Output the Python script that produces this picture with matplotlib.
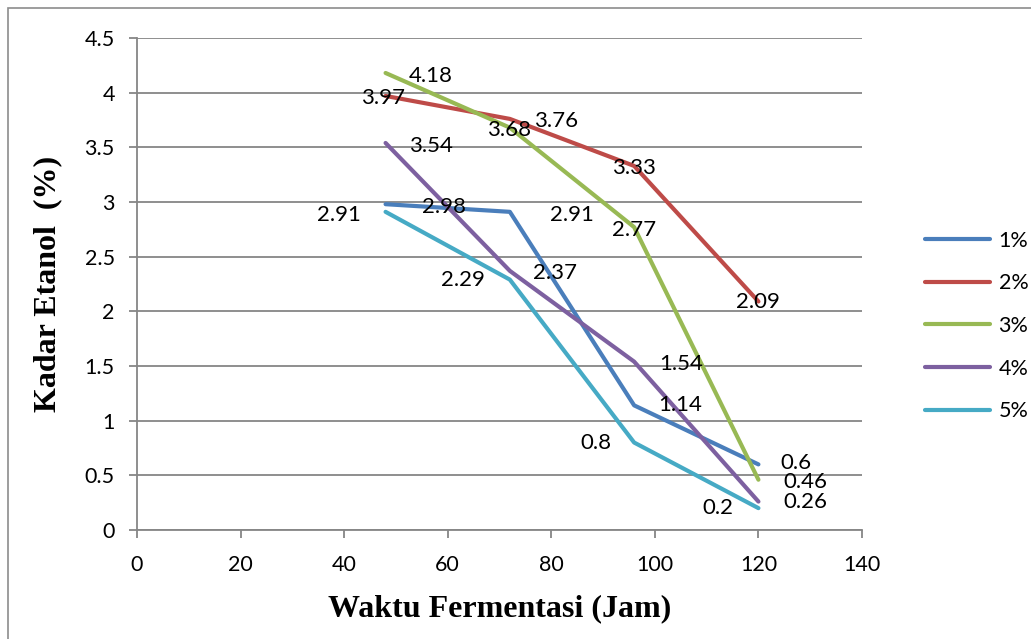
import matplotlib
matplotlib.use("Agg")
import matplotlib.pyplot as plt
from matplotlib.patches import Rectangle

# Data
waktu = [48, 72, 96, 120]
labels = ["1%", "2%", "3%", "4%", "5%"]
kadar_1 = [2.98, 2.91, 1.14, 0.6]
kadar_2 = [3.97, 3.76, 3.33, 2.09]
kadar_3 = [4.18, 3.68, 2.77, 0.46]
kadar_4 = [3.54, 2.37, 1.54, 0.26]
kadar_5 = [2.91, 2.29, 0.8, 0.2]
series = [kadar_1, kadar_2, kadar_3, kadar_4, kadar_5]

colors = ["#4a7ebb", "#be4b48", "#98b954", "#7d60a0", "#46aac5"]
# label offsets in pixels (dx, dy) as placed in the original
offsets = [
    [(58, -3), (62, -3), (46, 0), (38, 1)],
    [(-3, -2), (46, -2), (0, -2), (0, -1)],
    [(45, -3), (-1, -2), (0, -3), (47, -2)],
    [(45, -3), (45, -2), (47, -2), (47, 0)],
    [(-47, -3), (-47, 0), (-38, 0), (-41, 0)],
]

tick_font = "Lato"
fs = 16

fig = plt.figure(figsize=(10.31, 6.39), dpi=100)
ax = fig.add_axes([137/1031, 1-530/639, (862-137)/1031, (530-38)/639])

# outer border
fig.patches.append(Rectangle((8/1031, -0.1), 1.2, 1-8/639+0.1, transform=fig.transFigure,
                             fill=False, edgecolor="#8c8c8c", linewidth=1.2))

for y, lab, c in zip(series, labels, colors):
    ax.plot(waktu, y, color=c, linewidth=3, label=lab, solid_capstyle="round")

for y, c, offs in zip(series, colors, offsets):
    for xv, yv, (dx, dy) in zip(waktu, y, offs):
        ax.annotate(f"{yv:g}", (xv, yv), xytext=(dx, dy), textcoords="offset pixels",
                    ha="center", va="center", fontsize=fs, family=tick_font, color="black")

ax.set_xlim(0, 140)
ax.set_ylim(0, 4.5)
ax.set_xticks(range(0, 141, 20))
ax.set_yticks([0, 0.5, 1, 1.5, 2, 2.5, 3, 3.5, 4, 4.5])
ax.set_yticklabels(["0", "0.5", "1", "1.5", "2", "2.5", "3", "3.5", "4", "4.5"])
ax.grid(axis="y", color="#868686", linewidth=1.3)
ax.set_axisbelow(True)
for s in ["top", "right"]:
    ax.spines[s].set_visible(False)
for s in ["left", "bottom"]:
    ax.spines[s].set_color("#868686")
    ax.spines[s].set_linewidth(1.3)
ax.tick_params(axis="both", colors="#868686", length=6, width=1.3, labelcolor="black",
               labelsize=15.5)
ax.tick_params(axis="y", pad=10)
ax.tick_params(axis="x", pad=12)
for t in ax.get_xticklabels() + ax.get_yticklabels():
    t.set_family(tick_font)

ax.set_xlabel("Waktu Fermentasi (Jam)", family="Liberation Serif", fontweight="bold",
              fontsize=23, labelpad=14)
ax.set_ylabel("Kadar Etanol  (%)", family="Liberation Serif", fontweight="bold",
              fontsize=23, labelpad=16)

leg = fig.legend(loc="center left", bbox_to_anchor=(906/1031, 1-326/639), frameon=False,
                 handlelength=3.0, handletextpad=0.4, labelspacing=1.05,
                 prop={"family": tick_font, "size": 15.5})

fig.savefig("out.png", dpi=100)
